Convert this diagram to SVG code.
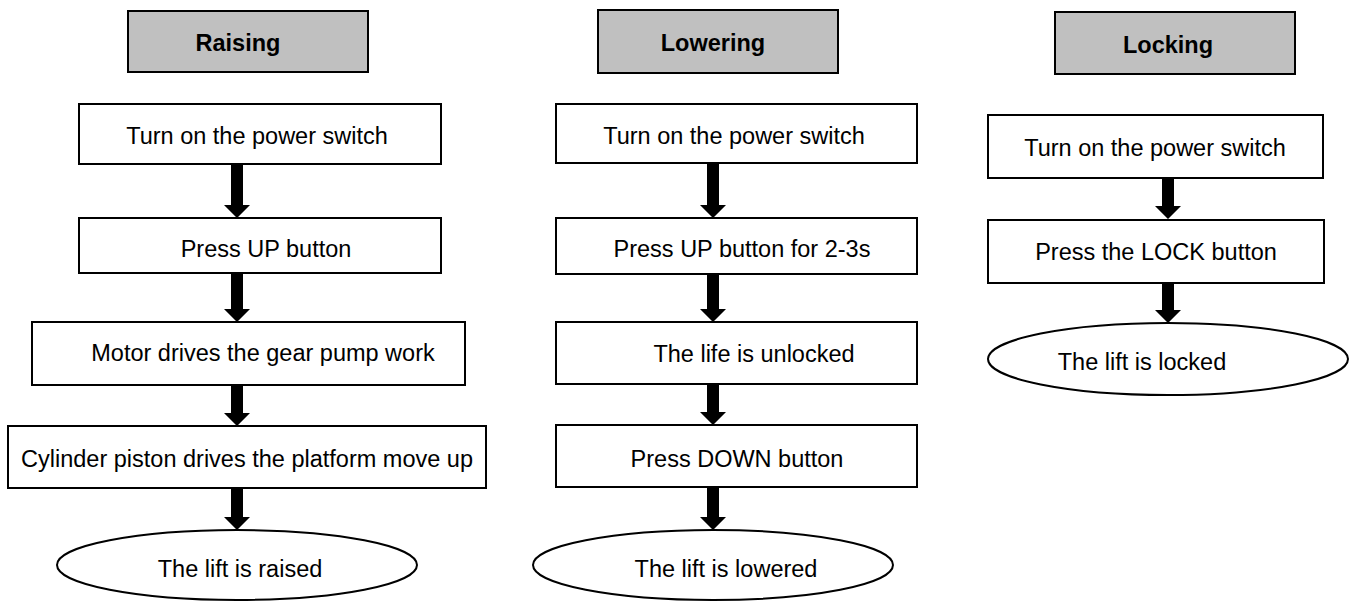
<svg xmlns="http://www.w3.org/2000/svg" width="1354" height="601" viewBox="0 0 1354 601">
<style>
.hdr{fill:#c0c0c0;stroke:#000;stroke-width:2}
.box{fill:#fff;stroke:#000;stroke-width:2}
.ell{fill:#fff;stroke:#000;stroke-width:2}
.t{font-family:"Liberation Sans",Arial,sans-serif;font-size:23.5px;fill:#000;text-anchor:middle}
.th{font-family:"Liberation Sans",Arial,sans-serif;font-size:23.5px;font-weight:bold;fill:#000;text-anchor:middle}
.arr{fill:#000}
</style>
<rect width="1354" height="601" fill="#fff"/>
<g id="raising">
<g id="r-hdr"><rect class="hdr" x="128" y="11" width="240" height="61"/><text class="th" x="238" y="51">Raising</text></g>
<g id="r1"><rect class="box" x="79" y="104" width="362" height="60"/><text class="t" x="257" y="144">Turn on the power switch</text></g>
<g id="r2"><rect class="box" x="79" y="218" width="362" height="55"/><text class="t" x="266" y="257">Press UP button</text></g>
<g id="r3"><rect class="box" x="32" y="322" width="433" height="63"/><text class="t" x="263" y="361">Motor drives the gear pump work</text></g>
<g id="r4"><rect class="box" x="8" y="426" width="478" height="62"/><text class="t" x="247" y="467">Cylinder piston drives the platform move up</text></g>
<g id="r5"><ellipse class="ell" cx="237" cy="565" rx="180" ry="35"/><text class="t" x="240" y="577">The lift is raised</text></g>
</g>
<g id="lowering">
<g id="l-hdr"><rect class="hdr" x="598" y="10" width="240" height="63"/><text class="th" x="713" y="51">Lowering</text></g>
<g id="l1"><rect class="box" x="556" y="104" width="361" height="59"/><text class="t" x="734" y="144">Turn on the power switch</text></g>
<g id="l2"><rect class="box" x="556" y="218" width="361" height="56"/><text class="t" x="742" y="257">Press UP button for 2-3s</text></g>
<g id="l3"><rect class="box" x="556" y="322" width="361" height="62"/><text class="t" x="754" y="362">The life is unlocked</text></g>
<g id="l4"><rect class="box" x="556" y="425" width="361" height="62"/><text class="t" x="737" y="467">Press DOWN button</text></g>
<g id="l5"><ellipse class="ell" cx="713" cy="565" rx="180" ry="35"/><text class="t" x="726" y="577">The lift is lowered</text></g>
</g>
<g id="locking">
<g id="k-hdr"><rect class="hdr" x="1055" y="12" width="240" height="62"/><text class="th" x="1168" y="53">Locking</text></g>
<g id="k1"><rect class="box" x="988" y="115" width="335" height="63"/><text class="t" x="1155" y="156">Turn on the power switch</text></g>
<g id="k2"><rect class="box" x="988" y="220" width="336" height="63"/><text class="t" x="1156" y="260">Press the LOCK button</text></g>
<g id="k3"><ellipse class="ell" cx="1168" cy="359" rx="180" ry="36"/><text class="t" x="1142" y="370">The lift is locked</text></g>
</g>
<g id="connectors">
<polygon class="arr" points="231,165 243,165 243,205 250,205 237,218 224,205 231,205"/>
<polygon class="arr" points="231,274 243,274 243,309 250,309 237,322 224,309 231,309"/>
<polygon class="arr" points="231,386 243,386 243,413 250,413 237,426 224,413 231,413"/>
<polygon class="arr" points="231,489 243,489 243,517 250,517 237,530 224,517 231,517"/>
<polygon class="arr" points="707,164 719,164 719,205 726,205 713,218 700,205 707,205"/>
<polygon class="arr" points="707,275 719,275 719,309 726,309 713,322 700,309 707,309"/>
<polygon class="arr" points="707,385 719,385 719,412 726,412 713,425 700,412 707,412"/>
<polygon class="arr" points="707,488 719,488 719,517 726,517 713,530 700,517 707,517"/>
<polygon class="arr" points="1162,179 1174,179 1174,206 1181,206 1168,219 1155,206 1162,206"/>
<polygon class="arr" points="1162,284 1174,284 1174,310 1181,310 1168,323 1155,310 1162,310"/>
</g>
</svg>
